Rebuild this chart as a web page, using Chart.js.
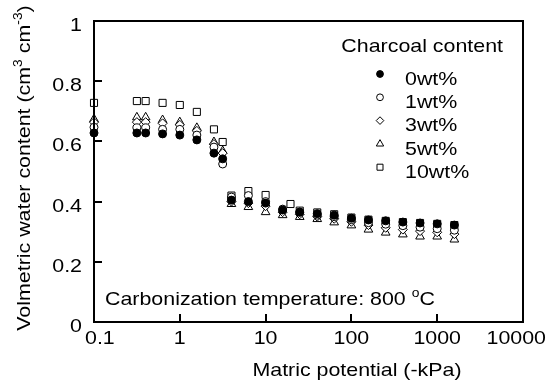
<!DOCTYPE html>
<html>
<head>
<meta charset="utf-8">
<script src="https://cdn.jsdelivr.net/npm/chart.js@4/dist/chart.umd.min.js"></script>
<style>
  html, body { margin: 0; padding: 0; background: #fff; }
  canvas { display: block; }
</style>
</head>
<body>
<canvas id="c" width="550" height="381"></canvas>
<script>
// Matric potential (-kPa) of each measurement step
const potentialKPa = [0.1, 0.316, 0.4, 0.63, 1.0, 1.58, 2.5, 3.16, 4.0, 6.3, 10, 15.8, 25, 40, 63, 100, 158, 251, 398, 631, 1000, 1585];
const potentialKPa10 = [0.1, 0.316, 0.4, 0.63, 1.0, 1.58, 2.5, 3.16, 4.0, 6.3, 10, 19.5, 25, 40, 63, 100, 158, 251, 398, 631, 1000, 1585];

// Volumetric water content (cm3 cm-3) for each charcoal content
const theta0wt  = [0.628, 0.628, 0.628, 0.625, 0.621, 0.605, 0.561, 0.542, 0.405, 0.400, 0.395, 0.372, 0.365, 0.360, 0.355, 0.345, 0.339, 0.336, 0.332, 0.329, 0.326, 0.322];
const theta1wt  = [0.647, 0.645, 0.645, 0.640, 0.640, 0.621, 0.581, 0.525, 0.415, 0.420, 0.400, 0.375, 0.365, 0.355, 0.350, 0.340, 0.330, 0.325, 0.320, 0.315, 0.310, 0.305];
const theta3wt  = [0.664, 0.664, 0.664, 0.660, 0.655, 0.635, 0.591, 0.561, 0.400, 0.395, 0.385, 0.365, 0.358, 0.350, 0.343, 0.333, 0.322, 0.313, 0.307, 0.302, 0.298, 0.292];
const theta5wt  = [0.674, 0.680, 0.680, 0.671, 0.664, 0.645, 0.598, 0.568, 0.392, 0.382, 0.365, 0.355, 0.349, 0.342, 0.331, 0.321, 0.307, 0.297, 0.291, 0.284, 0.284, 0.274];
const theta10wt = [0.728, 0.734, 0.734, 0.728, 0.721, 0.698, 0.640, 0.598, 0.420, 0.435, 0.422, 0.392, 0.370, 0.364, 0.358, 0.347, 0.340, 0.336, 0.332, 0.329, 0.326, 0.322];

const seriesLabels = ['0wt%', '1wt%', '3wt%', '5wt%', '10wt%'];
const legendTitle = 'Charcoal content';

const xTickValues = [0.1, 1, 10, 100, 1000, 10000];
const xTickLabels = ['0.1', '1', '10', '100', '1000', '10000'];
const yTickValues = [0, 0.2, 0.4, 0.6, 0.8, 1];
const yTickLabels = ['0', '0.2', '0.4', '0.6', '0.8', '1'];

const xTitle = 'Matric potential (-kPa)';
const yTitleRuns = [{ t: 'Volmetric water content (cm' }, { t: '3', sup: true }, { t: ' cm' }, { t: '-3', sup: true }, { t: ')' }];
const noteRuns = [{ t: 'Carbonization temperature: 800 ' }, { t: 'o', sup: true }, { t: 'C' }];

// Marker look per series
const markerStyles = [
  { pointStyle: 'circle',  radius: 4,   fill: '#000' },
  { pointStyle: 'circle',  radius: 4,   fill: '#fff' },
  { pointStyle: 'rectRot', radius: 4.5, fill: '#fff' },
  { pointStyle: 'triangle', radius: 5,  fill: '#fff' },
  { pointStyle: 'rect',    radius: 5,   fill: '#fff' }
];

const FONT_PX = 18.6;
const SX = 1.15; // wide lettering
const FAMILY = '"Liberation Sans", Arial, Helvetica, sans-serif';

function toPoints(xs, ys) { return xs.map((x, i) => ({ x: x, y: ys[i] })); }

function runsWidth(ctx, runs) {
  let w = 0;
  for (const r of runs) {
    ctx.font = (r.sup ? FONT_PX * 0.65 : FONT_PX) + 'px ' + FAMILY;
    w += ctx.measureText(r.t).width * SX;
  }
  return w;
}

function drawRuns(ctx, runs, x, y, align) {
  const total = runsWidth(ctx, runs);
  let cx = align === 'center' ? x - total / 2 : align === 'right' ? x - total : x;
  ctx.textBaseline = 'alphabetic';
  ctx.textAlign = 'left';
  for (const r of runs) {
    ctx.font = (r.sup ? FONT_PX * 0.65 : FONT_PX) + 'px ' + FAMILY;
    const w = ctx.measureText(r.t).width * SX;
    ctx.save();
    ctx.translate(cx, y + (r.sup ? -FONT_PX * 0.42 : 0));
    ctx.scale(SX, 1);
    ctx.fillText(r.t, 0, 0);
    ctx.restore();
    cx += w;
  }
}

function drawMarker(ctx, style, x, y, r) {
  ctx.beginPath();
  if (style.pointStyle === 'circle') {
    ctx.arc(x, y, r, 0, Math.PI * 2);
  } else if (style.pointStyle === 'rectRot') {
    ctx.moveTo(x - r, y); ctx.lineTo(x, y - r); ctx.lineTo(x + r, y); ctx.lineTo(x, y + r);
  } else if (style.pointStyle === 'triangle') {
    ctx.moveTo(x, y - r);
    ctx.lineTo(x + 0.866 * r, y + 0.5 * r);
    ctx.lineTo(x - 0.866 * r, y + 0.5 * r);
  } else {
    const s = r * Math.SQRT1_2;
    ctx.rect(x - s, y - s, 2 * s, 2 * s);
  }
  ctx.closePath();
  ctx.fillStyle = style.fill;
  ctx.fill();
  ctx.lineWidth = 1;
  ctx.strokeStyle = '#000';
  ctx.stroke();
}

const framePlugin = {
  id: 'frame',
  afterDatasetsDraw(chart) {
    const ctx = chart.ctx;
    const a = chart.chartArea;
    const xs = chart.scales.x, ys = chart.scales.y;
    ctx.save();
    ctx.strokeStyle = '#000';
    ctx.lineWidth = 2;
    ctx.strokeRect(a.left, a.top, a.right - a.left, a.bottom - a.top);

    // inward tick marks
    ctx.beginPath();
    xTickValues.forEach(v => {
      const px = Math.round(xs.getPixelForValue(v));
      ctx.moveTo(px, a.bottom); ctx.lineTo(px, a.bottom - 8);
    });
    yTickValues.forEach(v => {
      const py = Math.round(ys.getPixelForValue(v));
      ctx.moveTo(a.left, py); ctx.lineTo(a.left + 8, py);
    });
    ctx.stroke();

    ctx.fillStyle = '#000';
    // y tick labels
    yTickValues.forEach((v, i) => {
      const py = ys.getPixelForValue(v);
      drawRuns(ctx, [{ t: yTickLabels[i] }], a.left - 12, py + 10, 'right');
    });
    // x tick labels
    xTickValues.forEach((v, i) => {
      const px = xs.getPixelForValue(v);
      const y = a.bottom + 22;
      if (i === 0) drawRuns(ctx, [{ t: xTickLabels[i] }], px - 9, y, 'left');
      else if (i === xTickValues.length - 1) drawRuns(ctx, [{ t: xTickLabels[i] }], chart.width - 4, y, 'right');
      else drawRuns(ctx, [{ t: xTickLabels[i] }], px, y, 'center');
    });

    // axis titles
    drawRuns(ctx, [{ t: xTitle }], 357, 376, 'center');
    ctx.save();
    ctx.translate(30, 168);
    ctx.rotate(-Math.PI / 2);
    drawRuns(ctx, yTitleRuns, 0, 0, 'center');
    ctx.restore();

    // condition note
    drawRuns(ctx, noteRuns, a.left + 11, 305, 'left');

    // legend
    drawRuns(ctx, [{ t: legendTitle }], 503, 52, 'right');
    seriesLabels.forEach((lab, i) => {
      const cy = 78 + i * 23.3;
      ctx.fillStyle = '#000';
      drawRuns(ctx, [{ t: lab }], 405, cy + 6.6, 'left');
      const st = markerStyles[i];
      drawMarker(ctx, st, 380, cy - 4, st.radius * 0.85);
    });
    ctx.restore();
  }
};

const seriesData = [
  toPoints(potentialKPa, theta0wt),
  toPoints(potentialKPa, theta1wt),
  toPoints(potentialKPa, theta3wt),
  toPoints(potentialKPa, theta5wt),
  toPoints(potentialKPa10, theta10wt)
];

new Chart(document.getElementById('c'), {
  type: 'scatter',
  data: {
    datasets: seriesData.map((d, i) => ({
      label: seriesLabels[i],
      data: d,
      pointStyle: markerStyles[i].pointStyle,
      pointRadius: markerStyles[i].radius,
      pointBackgroundColor: markerStyles[i].fill,
      pointBorderColor: '#000',
      pointBorderWidth: 1,
      showLine: false,
      clip: false
    }))
  },
  options: {
    responsive: false,
    devicePixelRatio: 1,
    animation: false,
    layout: { padding: { left: 94, top: 21, right: 27, bottom: 59 } },
    plugins: { legend: { display: false }, tooltip: { enabled: false } },
    scales: {
      x: { type: 'logarithmic', min: 0.1, max: 10000, display: false },
      y: { type: 'linear', min: 0, max: 1, display: false }
    }
  },
  plugins: [framePlugin]
});
</script>
</body>
</html>
